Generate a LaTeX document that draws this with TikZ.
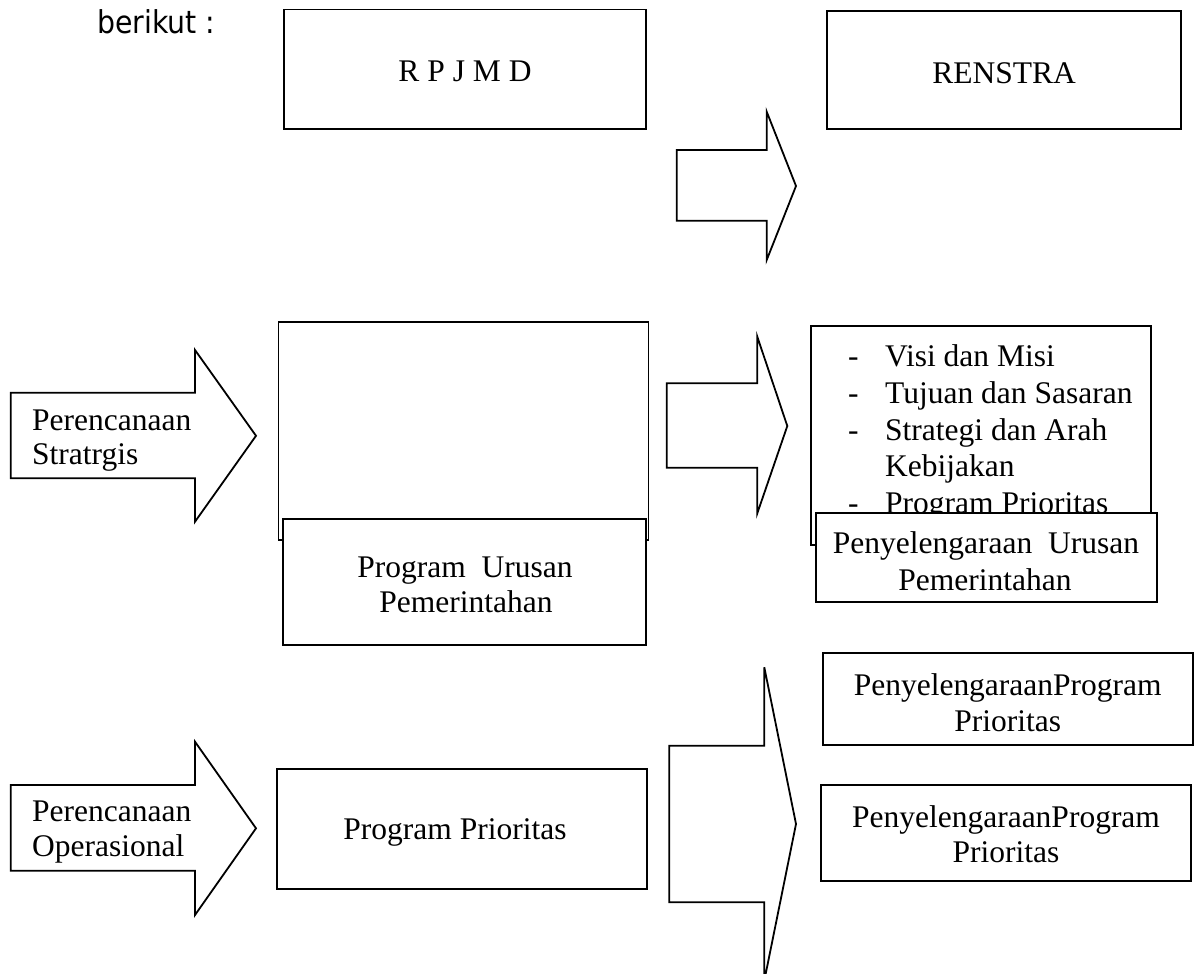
\documentclass[tikz,border=0pt]{standalone}
\usepackage{fontspec}
\setmainfont{Liberation Serif}
\newfontfamily\introfont[FakeStretch=0.9]{DejaVu Sans}
\begin{document}
\begin{tikzpicture}[x=1pt,y=-1pt,
  box/.style={draw,line width=1.8pt,fill=white,rectangle,inner sep=0pt},
  blockarrow/.style={draw,line width=1.8pt,fill=white,line join=miter},
  txt/.style={font=\fontsize{31.5}{35}\selectfont,inner sep=0pt,anchor=base},
  ltxt/.style={txt,anchor=base west},
]
\useasboundingbox (0,0) rectangle (1194,974);

% intro text
\node[anchor=base west,inner sep=0pt,font=\introfont\fontsize{31.5}{35}\selectfont] (intro) at (97,34) {berikut :};

% top boxes
\node[box,minimum width=361.7pt,minimum height=119.8pt] (rpjmd) at (464.85,69.4) {};
\node[txt] (rpjmdT) at (465,81.7) {R P J M D};
\node[box,minimum width=354.3pt,minimum height=118.6pt] (renstra) at (1003.85,70) {};
\node[txt] (renstraT) at (1004,83) {RENSTRA};

% top-right block arrow
\coordinate (a1) at (676.7,150);
\draw[blockarrow] (a1) -- (766.7,150) -- (766.7,111.7) -- (796,186) -- (766.7,260) -- (766.7,220.7) -- (676.7,220.7) -- cycle;

% left arrow: Perencanaan Stratrgis
\coordinate (l1) at (10.7,392.7);
\draw[blockarrow] (l1) -- (195,392.7) -- (195,350) -- (256,435.8) -- (195,521.7) -- (195,478.3) -- (10.7,478.3) -- cycle;
\node[ltxt] (l1a) at (32,430) {Perencanaan};
\node[ltxt] (l1b) at (32,464) {Stratrgis};

% middle boxes
\node[box,minimum width=370pt,minimum height=218pt] (mid) at (463.5,431) {};
\node[box,minimum width=362.4pt,minimum height=126pt] (pu) at (464.5,582) {};
\node[txt] (pu1) at (465,577) {Program~~Urusan};
\node[txt] (pu2) at (466,612) {Pemerintahan};

% middle-right block arrow
\coordinate (a2) at (666.7,383.3);
\draw[blockarrow] (a2) -- (757.3,383.3) -- (757.3,336.7) -- (787.3,426) -- (757.3,513.3) -- (757.3,467.7) -- (666.7,467.7) -- cycle;

% list box
\node[box,minimum width=340pt,minimum height=219pt] (list) at (980.7,435.5) {};
\node[ltxt] (d1) at (848,366.7) {-};
\node[ltxt] (t1) at (885,366.7) {Visi dan Misi};
\node[ltxt] (d2) at (848,403.3) {-};
\node[ltxt] (t2) at (885,403.3) {Tujuan dan Sasaran};
\node[ltxt] (d3) at (848,440) {-};
\node[ltxt] (t3) at (885,440) {Strategi dan Arah};
\node[ltxt] (t3b) at (885,476.7) {Kebijakan};
\node[ltxt] (d4) at (848,513.3) {-};
\node[ltxt] (t4) at (885,513.3) {Program Prioritas};

\node[box,minimum width=341pt,minimum height=89pt] (pur) at (986.2,557.2) {};
\node[txt] (pur1) at (986,553) {Penyelengaraan~~Urusan};
\node[txt] (pur2) at (985,590) {Pemerintahan};

% bottom-right block arrow
\coordinate (a3) at (669.3,745.7);
\draw[blockarrow] (a3) -- (764.3,745.7) -- (764.3,667.3) -- (796,824) -- (764.3,980.7) -- (764.3,902.3) -- (669.3,902.3) -- cycle;

% left arrow: Perencanaan Operasional
\coordinate (l2) at (10.7,785);
\draw[blockarrow] (l2) -- (195,785) -- (195,741.7) -- (256,828.3) -- (195,915) -- (195,870.7) -- (10.7,870.7) -- cycle;
\node[ltxt] (l2a) at (32,821.7) {Perencanaan};
\node[ltxt] (l2b) at (32,856.7) {Operasional};

% Program Prioritas box
\node[box,minimum width=370.6pt,minimum height=120pt] (pp) at (462,829.3) {};
\node[txt] (ppT) at (455,839) {Program Prioritas};

% right boxes
\node[box,minimum width=370pt,minimum height=92.3pt] (pp1) at (1007.7,698.85) {};
\node[txt] (pp1a) at (1007.7,695) {PenyelengaraanProgram};
\node[txt] (pp1b) at (1007.7,731) {Prioritas};
\node[box,minimum width=369.7pt,minimum height=95.7pt] (pp2) at (1005.85,832.85) {};
\node[txt] (pp2a) at (1006,827) {PenyelengaraanProgram};
\node[txt] (pp2b) at (1006,862) {Prioritas};
\end{tikzpicture}
\end{document}
